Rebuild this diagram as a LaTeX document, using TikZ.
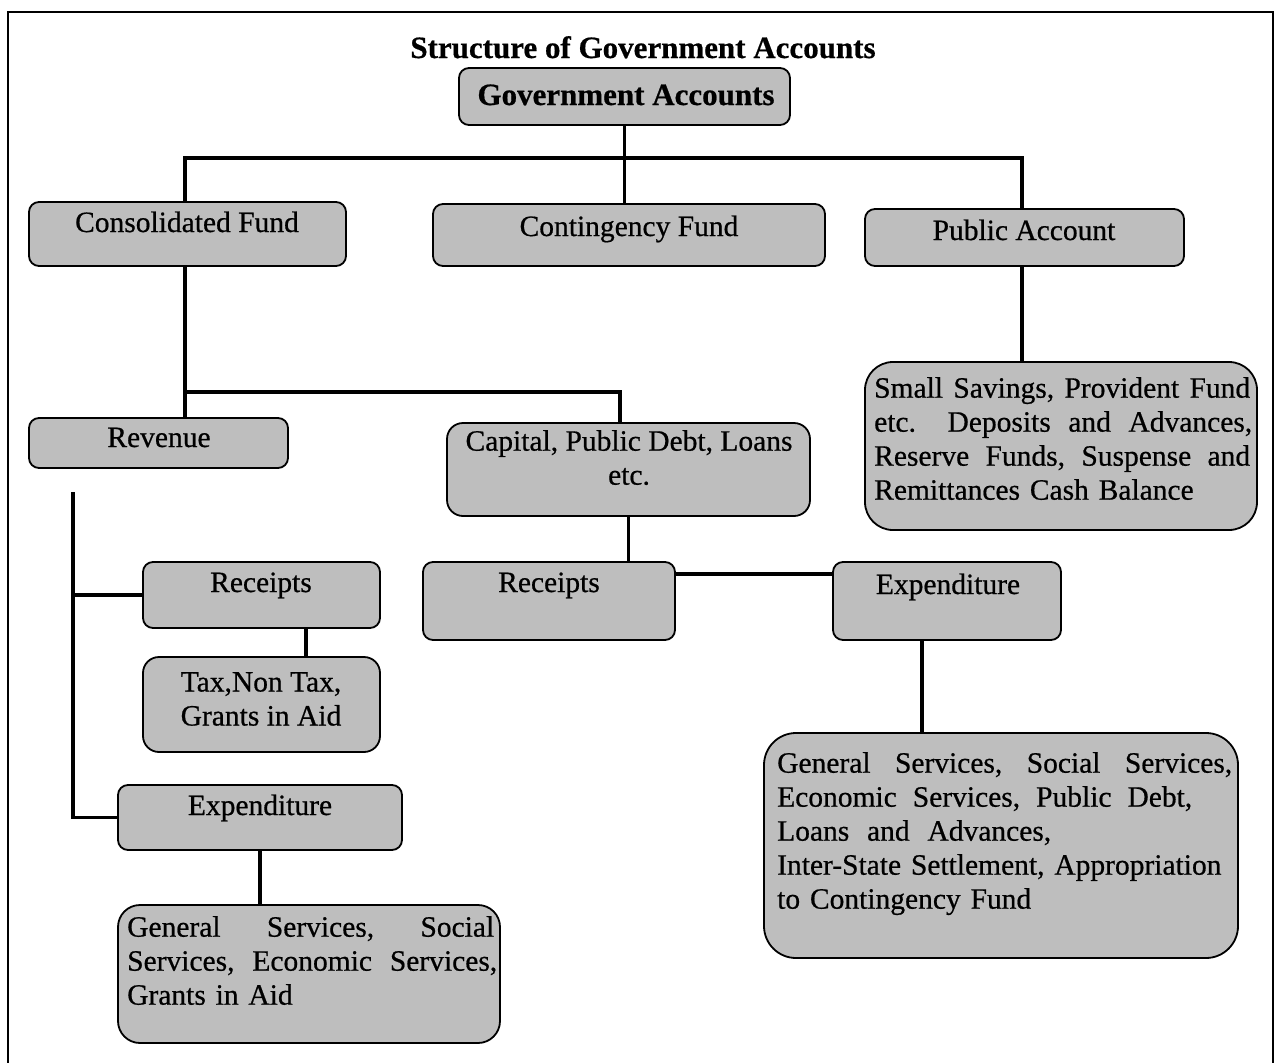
\documentclass[tikz,border=0pt]{standalone}
\usepackage{fontspec}
\setmainfont{Liberation Serif}
\newfontfamily\scanfont{Liberation Serif}[FakeBold=0.6]
\newfontfamily\scanbold{Liberation Serif Bold}[FakeBold=0.6]
\definecolor{boxgray}{RGB}{190,190,190}
\begin{document}
\begin{tikzpicture}[x=1pt,y=-1pt,
  box/.style={draw=black, line width=1.8pt, rounded corners=10pt, fill=boxgray, inner sep=0pt},
  conn/.style={line width=3.6pt},
  lbl/.style={inner sep=0pt, font=\scanfont\fontsize{29.5}{34}\selectfont},
  boldlbl/.style={inner sep=0pt, font=\scanbold\fontsize{31}{36}\selectfont},
  para/.style={lbl, align=left, anchor=north west},
]
\useasboundingbox (0,0) rectangle (1280,1063);
\fill[white] (0,0) rectangle (1280,1063);
\draw[line width=1.6pt] (8,1063) -- (8,12) -- (1273,12) -- (1273,1063);

\node[boldlbl, anchor=base] (title) at (643,58) {Structure of Government Accounts};

% boxes
\node[box, minimum width=331pt, minimum height=57pt] (gov) at (624.5,96.5) {};
\node[box, minimum width=317pt, minimum height=64pt] (cf) at (187.5,234) {};
\node[box, minimum width=392pt, minimum height=62pt] (ctg) at (629,235) {};
\node[box, minimum width=319pt, minimum height=57pt] (pa) at (1024.5,237.5) {};
\node[box, rounded corners=28pt, minimum width=392pt, minimum height=168pt] (ss) at (1061,446) {};
\node[box, minimum width=259pt, minimum height=50pt] (rev) at (158.5,443) {};
\node[box, rounded corners=16pt, minimum width=363pt, minimum height=93pt] (cap) at (628.5,469.5) {};
\node[box, minimum width=237pt, minimum height=66pt] (rcl) at (261.5,595) {};
\node[box, rounded corners=16pt, minimum width=237pt, minimum height=95pt] (tax) at (261.5,704.5) {};
\node[box, minimum width=284pt, minimum height=65pt] (exl) at (260,817.5) {};
\node[box, rounded corners=22pt, minimum width=382pt, minimum height=138pt] (gsl) at (309,974) {};
\node[box, minimum width=252pt, minimum height=78pt] (rcm) at (549,601) {};
\node[box, minimum width=228pt, minimum height=78pt] (exr) at (947,601) {};
\node[box, rounded corners=32pt, minimum width=474pt, minimum height=225pt] (gsr) at (1001,845.5) {};

% texts
\node[boldlbl, anchor=base] (govt) at (626,105) {Government Accounts};
\node[lbl, anchor=base] (cft) at (187,232) {Consolidated Fund};
\node[lbl, anchor=base] (ctgt) at (629,236) {Contingency Fund};
\node[lbl, anchor=base] (pat) at (1024,240) {Public Account};
\node[lbl, anchor=base] (revt) at (159,447) {Revenue};
\node[lbl, align=center, anchor=north] (capt) at (629,430) {Capital, Public Debt, Loans\\etc.};
\node[lbl, anchor=base] (rclt) at (261,592) {Receipts};
\node[lbl, align=center, anchor=north] (taxt) at (261,672) {Tax,Non Tax,\\Grants in Aid};
\node[lbl, anchor=base] (exlt) at (260,815) {Expenditure};
\node[lbl, anchor=base] (rcmt) at (549,592) {Receipts};
\node[lbl, anchor=base] (exrt) at (948,594) {Expenditure};
\node[para, text width=378pt] (sst) at (874,377)
  {\makebox[376pt][l]{Small\hfill Savings,\hfill Provident\hfill Fund}\\
   \makebox[378pt][l]{etc.\hspace{14pt}\hfill Deposits\hfill and\hfill Advances,}\\
   \makebox[376pt][l]{Reserve\hfill Funds,\hfill Suspense\hfill and}\\
   Remittances Cash Balance};
\node[para, text width=372pt] (gslt) at (127,916)
  {\makebox[367pt][l]{General\hfill Services,\hfill Social}\\
   \makebox[370pt][l]{Services,\hfill Economic\hfill Services,}\\
   Grants in Aid};
\node[para, text width=458pt] (gsrt) at (777,752)
  {\makebox[455pt][l]{General\hfill Services,\hfill Social\hfill Services,}\\
   \makebox[415pt][l]{Economic\hfill Services,\hfill Public\hfill Debt,}\\
   \makebox[274pt][l]{Loans\hfill and\hfill Advances,}\\
   Inter-State Settlement, Appropriation\\
   to Contingency Fund};

% connectors
\coordinate (busL) at (185,158);
\coordinate (busR) at (1022,158);
\draw[conn] (gov.south) -- (gov.south |- ctg.north);
\draw[conn] (cf.north -| busL) -- (busL) -- (busR) -- (pa.north -| busR);
\draw[conn] (pa.south -| busR) -- (ss.north -| busR);
\coordinate (b2L) at (185,392);
\coordinate (b2R) at (620,392);
\draw[conn] (cf.south -| b2L) -- (rev.north -| b2L);
\draw[conn] (b2L) -- (b2R) -- (cap.north -| b2R);
\coordinate (rtop) at (73,492);
\draw[conn] (rtop) |- (exl.west);
\draw[conn] (rcl.west) -- (rcl.west -| rtop);
\coordinate (rx) at (306,0);
\draw[conn] (rcl.south -| rx) -- (tax.north -| rx);
\draw[conn] (exl.south) -- (exl.south |- gsl.north);
\draw[conn] (cap.south) -- (cap.south |- rcm.north);
\coordinate (hy) at (0,574);
\draw[conn] (rcm.east |- hy) -- (exr.west |- hy);
\coordinate (ex) at (922,0);
\draw[conn] (exr.south -| ex) -- (gsr.north -| ex);
\end{tikzpicture}
\end{document}
